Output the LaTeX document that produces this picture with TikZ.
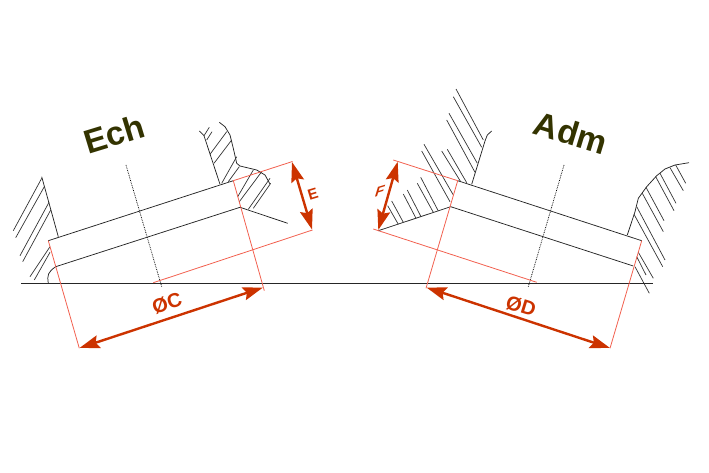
\documentclass[tikz,border=0pt]{standalone}
\usepackage{fontspec}
\setmainfont{Liberation Sans}
\usepackage{xcolor}
\usetikzlibrary{arrows.meta}
\definecolor{dimred}{HTML}{CC3300}
\definecolor{cotered}{HTML}{F2604F}
\definecolor{titlecol}{HTML}{333300}
\tikzset{
    part/.style={draw=black!85,line width=0.75pt},
    hatchline/.style={draw=black!80,line width=0.7pt},
    axisline/.style={draw=black,line width=0.75pt,densely dotted},
    coteline/.style={draw=cotered,line width=0.8pt},
    dimarrow/.style={draw=dimred,line width=2.4pt,{Stealth[length=20pt,width=13pt,inset=3pt]}-{Stealth[length=20pt,width=13pt,inset=3pt]}},
    titlelabel/.style={text=titlecol,font=\fontsize{33.5}{33.5}\selectfont\bfseries},
    dimlabel/.style={text=dimred,font=\fontsize{20}{20}\selectfont\bfseries},
    smalllabel/.style={text=dimred,font=\fontsize{15}{15}\selectfont\bfseries}
}
\begin{document}
\begin{tikzpicture}[x=1pt,y=-1pt]
    \useasboundingbox (0,0) rectangle (709,473);

    % Base line
    \draw[part] (21,283.3) -- (653,283.3);

    % Ech
    \begin{scope}
        % Label
        \node[titlelabel,rotate=17] (ech) at (114,134) {Ech};

        % Axis
        \draw[axisline] (126,165) -- (161.7,286.7);

        % Walls and seat
        \draw[part] (41.7,176.7) -- (58.3,236.7);
        \draw[part] (48.3,240.7) -- (233.3,180.7);
        \draw[part] (55.7,266.7) -- (240,207.3) -- (287.7,223.3);
        \draw[part] (55.7,266.7) .. controls (48,272) and (47,275) .. (48.3,283.3);
        \draw[part] (199.3,131) -- (204,135.7) -- (220,184.3);
        \draw[part] (219.3,122.3) -- (225,126.7) -- (230,135) -- (233.3,148.3) -- (236.7,163.3)
            -- (240,166) -- (256.7,170) -- (265,175) -- (270,184);

        % Hatching
        \foreach \xa/\ya/\xb/\yb in {41.7/178.3/13.3/230.7,44.3/186.7/15.7/237.7,
            49/202.3/20/255.7,50.7/210/22.7/261.7,50/246.7/30/276.7,50/252.3/34.3/280,
            204/135.7/209.3/127.3,206.7/140/212/131.7,210/154.3/226.7/131.7,
            214/163.3/231.7/140,221.7/183.3/236.7/156.7,228.3/181.7/239.3/166.7,
            237.7/196.7/253.3/170,239.3/201.7/261.7/171.7,248.3/209.3/270/178.3,
            253.3/208.3/270.7/183.3} {
            \draw[hatchline] (\xa,\ya) -- (\xb,\yb);
        }

        % Dimensions
        \draw[coteline] (48.3,240.7) -- (79.3,348.3);
        \draw[coteline] (233.3,180.7) -- (264.3,290.7);
        \draw[coteline] (233.3,180.7) -- (292.5,161.5);
        \draw[coteline] (312.5,230) -- (153.3,282.7);
        \draw[dimarrow] (79.5,348) -- (263,287.5);
        \node[dimlabel,rotate=18] (dimc) at (167,303) {ØC};
        \draw[dimarrow] (292,162) -- (312,229.5);
        \node[smalllabel,rotate=17] (dime) at (313,194) {E};
    \end{scope}

    % Adm
    \begin{scope}
        % Label
        \node[titlelabel,rotate=-17] (adm) at (571,133) {Adm};

        % Axis
        \draw[axisline] (564,165) -- (528.3,286.7);

        % Walls and seat
        \draw[part] (491.7,131) -- (487.3,135) -- (485,141) -- (471.7,184.3);
        \draw[part] (457.7,180.7) -- (641.7,240.7);
        \draw[part] (378.3,230.7) -- (450.7,206.7) -- (633.3,266);
        \draw[part] (627.3,235) -- (635,211.7) -- (638.3,198.3) -- (646.7,186.7) -- (656.7,175.7)
            -- (665,169) -- (675,165) -- (689,162.7);

        % Hatching
        \foreach \xa/\ya/\xb/\yb in {456/89/483.3/140,453.3/96.7/481.7/147.3,
            449/113.3/477.3/163.3,446.7/120/475/172.3,441.7/151/460.7/181.7,
            447.3/149.3/466.7/182.7,424/144.3/453.3/195,421.7/151/450/201.7,
            420.7/177.3/438.3/211,417.3/183.3/433.3/212.3,407.3/190/421/216.7,
            403.3/194/416/218.3,391.7/201/403.3/222.3,387.7/205.7/398.3/224.3,
            675.7/165/685.7/183.3,670/167.7/683.3/190.7,660/173.3/676/203.3,
            655.7/176.7/674/210.7,646/187.3/664/220.7,642.3/193.3/663.3/231.7,
            636.7/206.7/665/260,634/214.3/662.7/266.7,638.3/252.3/653.3/278.3,
            636.7/256.7/646/275,635/266.7/649.3/293.3} {
            \draw[hatchline] (\xa,\ya) -- (\xb,\yb);
        }

        % Dimensions
        \draw[coteline] (457.7,180.7) -- (426,288.3);
        \draw[coteline] (641.7,240.7) -- (610,348.3);
        \draw[coteline] (393.3,160) -- (457.7,180.7);
        \draw[coteline] (373.3,229) -- (536.7,282.3);
        \draw[dimarrow] (426.5,287.5) -- (610,348);
        \node[dimlabel,rotate=-17] (dimd) at (521,306) {ØD};
        \draw[dimarrow] (397.7,161.7) -- (378.3,230);
        \node[smalllabel,cm={0.956,0.292,0.292,0.956,(0,0)}] (dimf) at (380,191) {F};
    \end{scope}

\end{tikzpicture}
\end{document}
